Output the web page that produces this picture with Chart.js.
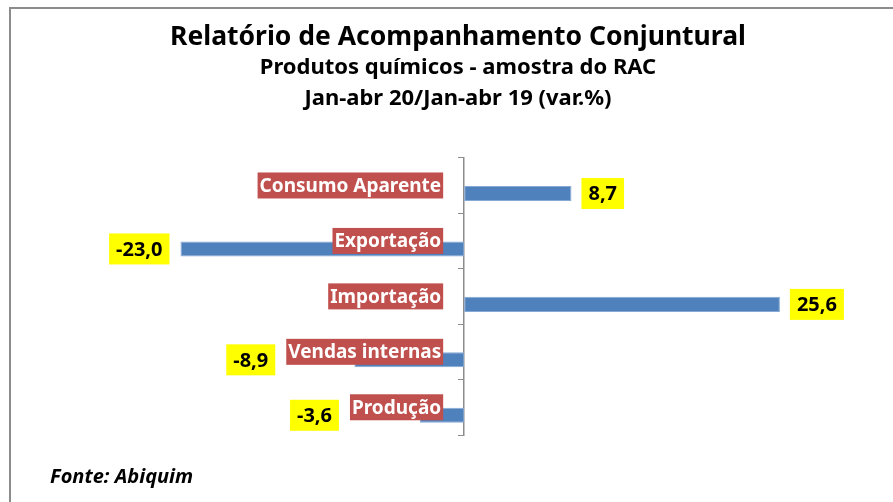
<!DOCTYPE html>
<html>
<head>
<meta charset="utf-8">
<script src="https://cdn.jsdelivr.net/npm/chart.js@4.4.1/dist/chart.umd.min.js"></script>
<style>
    html, body { margin: 0; padding: 0; background: #fff; overflow: hidden; }
    #frame {
        position: absolute; left: 9px; top: 7px; width: 884px; height: 500px;
        border-top: 2px solid #8c8c8c; border-left: 2px solid #8c8c8c;
    }
    #chart { display: block; }
</style>
</head>
<body>
<div id="frame"><canvas id="chart" width="894" height="493"></canvas></div>
<script>
// Data
const categories = ['Consumo Aparente', 'Exportação', 'Importação', 'Vendas internas', 'Produção'];
const variation = [8.7, -23.0, 25.6, -8.9, -3.6];
const titleText = 'Relatório de Acompanhamento Conjuntural';
const subtitleLines = ['Produtos químicos - amostra do RAC', 'Jan-abr 20/Jan-abr 19 (var.%)'];
const sourceText = 'Fonte: Abiquim';

const FONT = '"Noto Sans", "DejaVu Sans", sans-serif';

/**
 * Draws the red category labels, the yellow value boxes and the source note
 */
const barLabels = {
    id: 'barLabels',
    afterDatasetsDraw(chart) {
        const ctx = chart.ctx;
        const xScale = chart.scales.x;
        const yScale = chart.scales.y;
        const zero = xScale.getPixelForValue(0);
        const meta = chart.getDatasetMeta(1);

        ctx.save();
        ctx.textBaseline = 'middle';

        categories.forEach((cat, i) => {
            const bar = meta.data[i];

            // category label (red box, white text)
            ctx.font = 'bold 19px ' + FONT;
            const cw = ctx.measureText(cat).width;
            const cy = yScale.getPixelForValue(i);
            const cRight = zero - 21;
            const cLeft = cRight - cw - 4;
            ctx.fillStyle = '#C0504D';
            ctx.fillRect(cLeft, cy - 13, cw + 4, 26);
            ctx.fillStyle = '#ffffff';
            ctx.textAlign = 'right';
            ctx.fillText(cat, cRight - 2, cy + 1);

            // value label (yellow box)
            const txt = variation[i].toFixed(1).replace('.', ',');
            ctx.font = 'bold 20px ' + FONT;
            const vw = ctx.measureText(txt).width + 14;
            const vh = 31;
            let vx;
            if (variation[i] >= 0) {
                vx = bar.x + 10;
            } else {
                vx = Math.min(bar.x, cLeft) - 11 - vw;
            }
            const vy = bar.y;
            ctx.fillStyle = '#FFFF00';
            ctx.fillRect(vx, vy - vh / 2, vw, vh);
            ctx.fillStyle = '#000000';
            ctx.textAlign = 'center';
            ctx.fillText(txt, vx + vw / 2, vy + 1);
        });

        // source note
        ctx.font = 'italic bold 20px ' + FONT;
        ctx.textAlign = 'left';
        ctx.fillStyle = '#000000';
        ctx.fillText(sourceText, 39, 468);

        ctx.restore();
    }
};

new Chart(document.getElementById('chart'), {
    type: 'bar',
    data: {
        labels: categories,
        datasets: [
            {
                // empty series, keeps the bars in the lower half of each band
                label: '',
                data: categories.map(() => null)
            },
            {
                label: 'var.%',
                data: variation,
                backgroundColor: '#4F81BD',
                borderColor: '#86A9D6',
                borderWidth: 1,
                borderSkipped: false
            }
        ]
    },
    options: {
        indexAxis: 'y',
        responsive: false,
        devicePixelRatio: 1,
        animation: false,
        categoryPercentage: 0.578,
        barPercentage: 0.94,
        layout: {
            padding: { top: 0, left: 77, right: 77, bottom: 67 }
        },
        plugins: {
            legend: { display: false },
            tooltip: { enabled: false },
            title: {
                display: true,
                text: titleText,
                color: '#000',
                font: { family: FONT, size: 26.5, weight: 'bold', lineHeight: 1.1 },
                padding: { top: 14, bottom: 0 }
            },
            subtitle: {
                display: true,
                text: subtitleLines,
                color: '#000',
                font: { family: FONT, size: 22, weight: 'bold', lineHeight: 1.4 },
                padding: { top: 0, bottom: 44 }
            }
        },
        scales: {
            x: {
                display: false,
                min: -30.5,
                max: 29.5
            },
            y: {
                position: { x: 0 },
                offset: true,
                ticks: { display: false },
                grid: {
                    display: true,
                    offset: true,
                    drawOnChartArea: false,
                    drawTicks: true,
                    tickLength: 5,
                    color: '#8c8c8c'
                },
                border: { display: true, color: '#8c8c8c', width: 1.5 }
            }
        }
    },
    plugins: [barLabels]
});
</script>
</body>
</html>
